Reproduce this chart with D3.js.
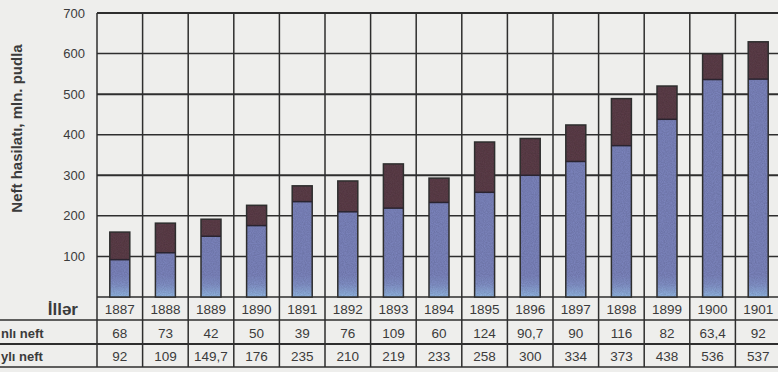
<!DOCTYPE html>
<html>
<head>
<meta charset="utf-8">
<script src="https://cdn.jsdelivr.net/npm/d3@7"></script>
<style>
  html, body { margin: 0; padding: 0; background: #eeeeec; }
  svg { display: block; }
  text { font-family: "Liberation Sans", Arial, sans-serif; }
</style>
</head>
<body>
<svg id="chart" width="778" height="372"></svg>
<script>
// Oil output by year, mln. pud
const years = [1887, 1888, 1889, 1890, 1891, 1892, 1893, 1894, 1895, 1896, 1897, 1898, 1899, 1900, 1901];
const upperSeries = [68, 73, 42, 50, 39, 76, 109, 60, 124, 90.7, 90, 116, 82, 63.4, 92];     // "nlı neft"
const lowerSeries = [92, 109, 149.7, 176, 235, 210, 219, 233, 258, 300, 334, 373, 438, 536, 537]; // "ylı neft"
const yTicks = [100, 200, 300, 400, 500, 600, 700];
const rowLabels = ["İllər", "nlı neft", "ylı neft"];
const yTitle = "Neft hasilatı, mln. pudla";

const svg = d3.select("#chart");

const x = d3.scaleBand().domain(years).range([97, 97 + years.length * 45.6]).padding(0);
const y = d3.scaleLinear().domain([0, 700]).range([297, 13]);
const barW = 20;

const fmt = v => String(v).replace(".", ",");
const ink = "#2e2e2e";
const textCol = "#3b3b3b";

// Gradient shared by all lower segments: lighter blue near the base
const defs = svg.append("defs");
const grad = defs.append("linearGradient")
  .attr("id", "lowGrad").attr("gradientUnits", "userSpaceOnUse")
  .attr("x1", 0).attr("x2", 0).attr("y1", y(0) - 22).attr("y2", y(0));
grad.append("stop").attr("offset", "0").attr("stop-color", "#7f87c1");
grad.append("stop").attr("offset", "0.45").attr("stop-color", "#8595cc");
grad.append("stop").attr("offset", "1").attr("stop-color", "#95b9e6");

// Grain for the bar fills
const grain = defs.append("filter").attr("id", "grain").attr("x", 0).attr("y", 0).attr("width", 1).attr("height", 1);
grain.append("feTurbulence").attr("type", "fractalNoise").attr("baseFrequency", 0.9).attr("numOctaves", 2).attr("seed", 3).attr("result", "n");
grain.append("feColorMatrix").attr("in", "n").attr("type", "matrix")
  .attr("values", "0 0 0 0 0  0 0 0 0 0  0 0 0 0 0  0 0 0 0.35 0").attr("result", "na");
grain.append("feComposite").attr("in", "na").attr("in2", "SourceGraphic").attr("operator", "in").attr("result", "nc");
grain.append("feMerge").selectAll("feMergeNode").data(["SourceGraphic", "nc"]).join("feMergeNode").attr("in", d => d);

const x0 = x.range()[0], x1 = x.range()[1];

// Horizontal grid lines
svg.append("g").selectAll("line").data([0].concat(yTicks)).join("line")
  .attr("x1", x0).attr("x2", x1)
  .attr("y1", d => y(d)).attr("y2", d => y(d))
  .attr("stroke", ink)
  .attr("stroke-width", d => (d === 700 || d === 500 || d === 300) ? 2 : 1.5);

// Vertical grid lines (column boundaries), running through the table
const colEdges = years.map(d => x(d)).concat([x1]);
svg.append("g").selectAll("line").data(colEdges).join("line")
  .attr("x1", d => d).attr("x2", d => d)
  .attr("y1", y(700)).attr("y2", 367)
  .attr("stroke", ink).attr("stroke-width", 1.5);

// Y tick labels
svg.append("g").selectAll("text").data(yTicks).join("text")
  .attr("x", 85).attr("y", d => y(d) + 4.5)
  .attr("text-anchor", "end")
  .attr("font-size", 13).attr("fill", textCol)
  .text(d => d);

// Y axis title
svg.append("text")
  .attr("transform", `translate(22,${(22 + 235) / 2}) rotate(-90)`)
  .attr("text-anchor", "middle")
  .attr("font-size", 15).attr("font-weight", "bold").attr("fill", textCol)
  .text(yTitle);

// Stacked bars
const bars = svg.append("g");
years.forEach((yr, i) => {
  const cx = x(yr) + x.bandwidth() / 2;
  const lo = lowerSeries[i], up = upperSeries[i];
  bars.append("rect")
    .attr("x", cx - barW / 2).attr("width", barW)
    .attr("y", y(lo)).attr("height", y(0) - y(lo))
    .attr("fill", "url(#lowGrad)").attr("filter", "url(#grain)");
  bars.append("rect")
    .attr("x", cx - barW / 2).attr("width", barW)
    .attr("y", y(lo + up)).attr("height", y(lo) - y(lo + up))
    .attr("fill", "#5f404b").attr("filter", "url(#grain)");
  bars.append("rect")
    .attr("x", cx - barW / 2).attr("width", barW)
    .attr("y", y(lo + up)).attr("height", y(0) - y(lo + up))
    .attr("fill", "none").attr("stroke", ink).attr("stroke-width", 1.5);
  bars.append("line")
    .attr("x1", cx - barW / 2).attr("x2", cx + barW / 2)
    .attr("y1", y(lo)).attr("y2", y(lo))
    .attr("stroke", "#2a2430").attr("stroke-width", 1.5);
});

// Table below the chart
const rowLines = [320, 344, 367];
svg.append("g").selectAll("line").data(rowLines).join("line")
  .attr("x1", 0).attr("x2", x1)
  .attr("y1", d => d).attr("y2", d => d)
  .attr("stroke", ink).attr("stroke-width", d => d === 344 ? 2 : 1.5);

const rowMid = [309, 333, 356];
const rows = [years.map(String), upperSeries.map(fmt), lowerSeries.map(fmt)];
rows.forEach((vals, r) => {
  svg.append("g").selectAll("text").data(vals).join("text")
    .attr("x", (d, i) => x(years[i]) + x.bandwidth() / 2)
    .attr("y", rowMid[r] + 5)
    .attr("text-anchor", "middle")
    .attr("font-size", 13.5).attr("fill", textCol)
    .text(d => d);
});

// Row headers
svg.append("text")
  .attr("x", 78).attr("y", rowMid[0] + 6)
  .attr("text-anchor", "end")
  .attr("font-size", 17).attr("font-weight", "bold").attr("fill", textCol)
  .text(rowLabels[0]);
svg.append("g").selectAll("text").data(rowLabels.slice(1)).join("text")
  .attr("x", 1).attr("y", (d, i) => rowMid[i + 1] + 5)
  .attr("text-anchor", "start")
  .attr("font-size", 13).attr("font-weight", "bold").attr("fill", textCol)
  .text(d => d);
</script>
</body>
</html>
